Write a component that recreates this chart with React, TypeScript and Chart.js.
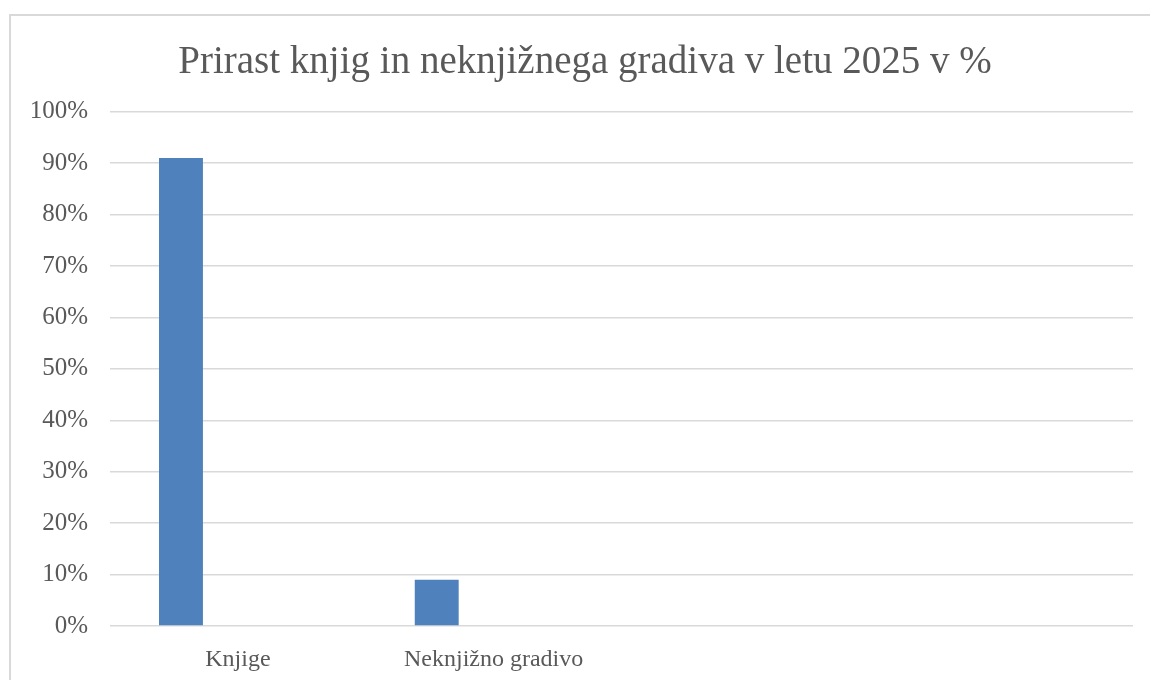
import React, { useEffect, useRef } from "react";
import { Chart, registerables } from "chart.js";

Chart.register(...registerables);

const titleText = "Prirast knjig in neknjižnega gradiva v letu 2025 v %";
const categories = ["Knjige", "Neknjižno gradivo", "", ""];
const seriesValues = [91, 9, null, null];
const emptySeries = [null, null, null, null];
const yTicks = [0, 10, 20, 30, 40, 50, 60, 70, 80, 90, 100];

const FONT = "'Liberation Serif', 'Times New Roman', serif";
const TEXT = "#595959";

// Shift the title block so it centres over the whole chart frame (as in Excel).
const titleShift = {
  id: "titleShift",
  afterLayout(chart: any) {
    const tb = chart.titleBlock;
    if (tb) {
      tb.left = 37;
      tb.width = tb.right - tb.left;
    }
  },
};

export default function App() {
  const ref = useRef<HTMLCanvasElement | null>(null);

  useEffect(() => {
    if (!ref.current) return;
    const chart = new Chart(ref.current, {
      type: "bar",
      data: {
        labels: categories,
        datasets: [
          {
            label: "Prirast",
            data: seriesValues,
            backgroundColor: "#4f81bd",
            borderWidth: 0,
          },
          {
            label: "",
            data: emptySeries,
            backgroundColor: "#c0504d",
            borderWidth: 0,
          },
        ],
      },
      options: {
        animation: false,
        responsive: false,
        maintainAspectRatio: false,
        layout: { padding: { left: 0, right: 17, top: 0, bottom: 0 } },
        datasets: {
          bar: { categoryPercentage: 0.89, barPercentage: 0.386 },
        },
        plugins: {
          legend: { display: false },
          tooltip: { enabled: false },
          title: {
            display: true,
            text: titleText,
            color: TEXT,
            font: { family: FONT, size: 39, weight: "normal" },
            padding: { top: 39, bottom: 26 },
          },
        },
        scales: {
          x: {
            grid: { display: false, drawTicks: false },
            border: { display: false },
            ticks: {
              color: TEXT,
              font: { family: FONT, size: 24 },
              padding: 19,
              maxRotation: 0,
              autoSkip: false,
            },
            afterFit: (scale: any) => {
              scale.height = 54;
            },
          },
          y: {
            min: 0,
            max: 100,
            afterBuildTicks: (scale: any) => {
              scale.ticks = yTicks.map((v) => ({ value: v }));
            },
            grid: { color: "#d9d9d9", lineWidth: 1.5, drawTicks: false },
            border: { display: false },
            ticks: {
              color: TEXT,
              font: { family: FONT, size: 25 },
              padding: 22,
              callback: (v: any) => v + "%",
            },
            afterFit: (scale: any) => {
              scale.width = 110;
            },
          },
        },
      },
      plugins: [titleShift],
    });
    return () => chart.destroy();
  }, []);

  return (
    <div
      style={{
        position: "fixed",
        left: 0,
        top: 0,
        width: 1150,
        height: 680,
        background: "#ffffff",
        overflow: "hidden",
      }}
    >
      <div
        style={{
          position: "absolute",
          left: 9,
          top: 14,
          width: 1200,
          height: 700,
          border: "2px solid #d9d9d9",
          boxSizing: "border-box",
        }}
      />
      <canvas
        ref={ref}
        width={1150}
        height={680}
        style={{ position: "absolute", left: 0, top: 0, width: 1150, height: 680 }}
      />
    </div>
  );
}
